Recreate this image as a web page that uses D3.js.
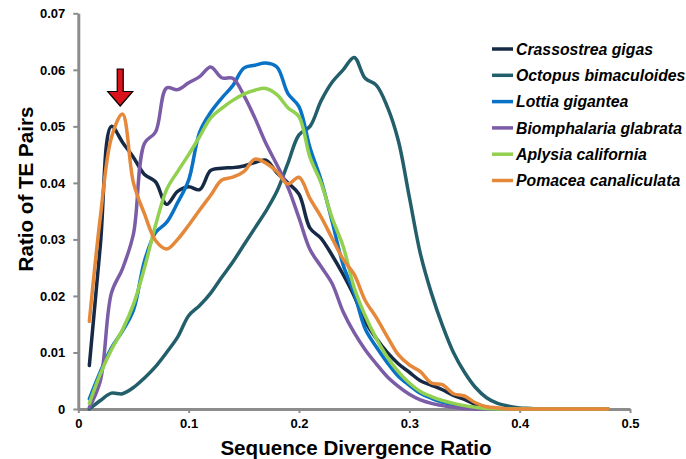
<!DOCTYPE html>
<meta charset="utf-8">
<script src="https://d3js.org/d3.v7.min.js"></script>
<style type="text/css">
body { margin: 0; background: #fff; }
svg { font-family: Arial, "Liberation Sans", sans-serif; }
.axis path, .axis line { stroke: #8c8c8c; }
.axis path { stroke-width: 3; }
.axis line { stroke-width: 2; }
.axis text { font-size: 13px; font-weight: bold; fill: #000; }
.title { font-size: 20.6px; font-weight: bold; fill: #000; }
.legend text { font-size: 15.8px; font-weight: bold; font-style: italic; fill: #000; }
</style>
<body>
</body>
<script>

// sequence divergence ratio (x)
var divergence = [0.01, 0.02, 0.03, 0.04, 0.05, 0.06, 0.07, 0.08, 0.09, 0.10,
  0.11, 0.12, 0.13, 0.14, 0.15, 0.16, 0.17, 0.18, 0.19, 0.20,
  0.21, 0.22, 0.23, 0.24, 0.25, 0.26, 0.27, 0.28, 0.29, 0.30,
  0.31, 0.32, 0.33, 0.34, 0.35, 0.36, 0.37, 0.38, 0.39, 0.40,
  0.41, 0.42, 0.43, 0.44, 0.45, 0.46, 0.47, 0.48];

var crassostrea = [0.0077, 0.0290, 0.0500, 0.0472, 0.0445, 0.0415, 0.0402, 0.0362, 0.0385, 0.0393,
  0.0388, 0.0422, 0.0426, 0.0427, 0.0430, 0.0436, 0.0440, 0.0418, 0.0400, 0.0380,
  0.0320, 0.0302, 0.0272, 0.0238, 0.0200, 0.0155, 0.0125, 0.0100, 0.0080, 0.0065,
  0.0050, 0.0042, 0.0034, 0.0024, 0.0017, 0.0008, 0.0003, 0.0001, 0, 0,
  0, 0, 0, 0, 0, 0, 0, 0];

var octopus = [0.0000, 0.0015, 0.0028, 0.0027, 0.0038, 0.0055, 0.0075, 0.0100, 0.0127, 0.0165,
  0.0183, 0.0205, 0.0233, 0.0260, 0.0290, 0.0320, 0.0350, 0.0385, 0.0435, 0.0485,
  0.0500, 0.0545, 0.0578, 0.0600, 0.0622, 0.0585, 0.0573, 0.0535, 0.0475, 0.0375,
  0.0275, 0.0205, 0.0148, 0.0100, 0.0065, 0.0038, 0.0020, 0.0010, 0.0005, 0.0002,
  0.0001, 0, 0, 0, 0, 0, 0, 0];

var lottia = [0.0018, 0.0066, 0.0108, 0.0138, 0.0175, 0.0262, 0.0312, 0.0330, 0.0365, 0.0405,
  0.0490, 0.0525, 0.0550, 0.0572, 0.0603, 0.0608, 0.0612, 0.0605, 0.0558, 0.0535,
  0.0462, 0.0405, 0.0332, 0.0255, 0.0205, 0.0142, 0.0110, 0.0082, 0.0058, 0.0042,
  0.0028, 0.0019, 0.0012, 0.0008, 0.0004, 0.0002, 0.0001, 0, 0, 0,
  0, 0, 0, 0, 0, 0, 0, 0];

var biomphalaria = [0.0003, 0.0050, 0.0205, 0.0248, 0.0310, 0.0470, 0.0490, 0.0568, 0.0565, 0.0577,
  0.0588, 0.0605, 0.0586, 0.0585, 0.0555, 0.0515, 0.0470, 0.0432, 0.0392, 0.0338,
  0.0282, 0.0252, 0.0222, 0.0172, 0.0135, 0.0105, 0.0080, 0.0057, 0.0040, 0.0026,
  0.0016, 0.0010, 0.0006, 0.0003, 0.0001, 0, 0, 0, 0, 0,
  0, 0, 0, 0, 0, 0, 0, 0];

var aplysia = [0.0010, 0.0062, 0.0105, 0.0140, 0.0185, 0.0250, 0.0325, 0.0388, 0.0420, 0.0450,
  0.0482, 0.0515, 0.0532, 0.0546, 0.0557, 0.0564, 0.0567, 0.0556, 0.0533, 0.0517,
  0.0445, 0.0400, 0.0338, 0.0288, 0.0215, 0.0165, 0.0125, 0.0092, 0.0066, 0.0046,
  0.0031, 0.0022, 0.0015, 0.0010, 0.0006, 0.0003, 0.0001, 0, 0, 0,
  0, 0, 0, 0, 0, 0, 0, 0];

var pomacea = [0.0155, 0.0340, 0.0480, 0.0522, 0.0400, 0.0345, 0.0298, 0.0283, 0.0300, 0.0325,
  0.0352, 0.0378, 0.0405, 0.0410, 0.0420, 0.0442, 0.0435, 0.0420, 0.0398, 0.0410,
  0.0372, 0.0340, 0.0302, 0.0265, 0.0238, 0.0192, 0.0162, 0.0128, 0.0096, 0.0078,
  0.0066, 0.0046, 0.0043, 0.0027, 0.0023, 0.0011, 0.0004, 0.0002, 0, 0,
  0, 0, 0, 0, 0, 0, 0, 0];

var speciesNames = ["Crassostrea gigas", "Octopus bimaculoides", "Lottia gigantea",
  "Biomphalaria glabrata", "Aplysia california", "Pomacea canaliculata"];
var speciesColors = ["#172a45", "#235f6b", "#0a72c6", "#7b5ca6", "#92d050", "#e5883a"];

var xTickValues = [0, 0.1, 0.2, 0.3, 0.4, 0.5];
var xTickLabels = ["0", "0.1", "0.2", "0.3", "0.4", "0.5"];
var yTickValues = [0, 0.01, 0.02, 0.03, 0.04, 0.05, 0.06, 0.07];
var yTickLabels = ["0", "0.01", "0.02", "0.03", "0.04", "0.05", "0.06", "0.07"];

// red arrow marking the Pomacea peak
var arrowPoint = [0.038, 0.0536];

var series = [crassostrea, octopus, lottia, biomphalaria, aplysia, pomacea];

var width = 686;
var height = 459;

var svg = d3.select("body").append("svg")
  .attr("width", width)
  .attr("height", height);

var xScale = d3.scaleLinear()
  .domain([0, 0.5])
  .range([78.3, 630]);

var yScale = d3.scaleLinear()
  .domain([0, 0.07])
  .range([409, 13.3]);

var xAxis = d3.axisBottom(xScale)
  .tickValues(xTickValues)
  .tickFormat(function(d, i) { return xTickLabels[i]; })
  .tickSizeInner(4)
  .tickSizeOuter(0)
  .tickPadding(6);

var yAxis = d3.axisLeft(yScale)
  .tickValues(yTickValues)
  .tickFormat(function(d, i) { return yTickLabels[i]; })
  .tickSizeInner(5)
  .tickSizeOuter(0)
  .tickPadding(8);

svg.append("g")
  .attr("class", "x axis")
  .attr("transform", "translate(0," + yScale(0) + ")")
  .call(xAxis);

svg.append("g")
  .attr("class", "y axis")
  .attr("transform", "translate(" + xScale(0) + ",0)")
  .call(yAxis);

svg.selectAll(".axis .domain").attr("fill", "none");

var line = d3.line()
  .x(function(d) { return xScale(d[0]); })
  .y(function(d) { return yScale(d[1]); })
  .curve(d3.curveCatmullRom.alpha(0.5));

svg.selectAll(".species")
  .data(series).enter().append("path")
  .attr("class", "species")
  .attr("fill", "none")
  .attr("stroke", function(d, i) { return speciesColors[i]; })
  .attr("stroke-width", 3.5)
  .attr("stroke-linejoin", "round")
  .attr("stroke-linecap", "round")
  .attr("d", function(d) { return line(divergence.map(function(x, j) { return [x, d[j]]; })); });

// arrow
var ax = xScale(arrowPoint[0]);
var ay = yScale(arrowPoint[1]);
svg.append("path")
  .attr("d", "M" + ax + "," + ay +
    " l-12.5,-14.5 l9.5,0 l0,-22.5 l6,0 l0,22.5 l9.5,0 Z")
  .attr("fill", "#d9121c")
  .attr("stroke", "#000")
  .attr("stroke-width", 1.2)
  .attr("stroke-linejoin", "miter");

// axis titles
svg.append("text")
  .attr("class", "title")
  .attr("transform", "translate(33,189) rotate(-90)")
  .attr("text-anchor", "middle")
  .text("Ratio of TE Pairs");

svg.append("text")
  .attr("class", "title")
  .attr("x", 356)
  .attr("y", 455)
  .attr("text-anchor", "middle")
  .text("Sequence Divergence Ratio");

// legend
var legend = svg.selectAll(".legend")
  .data(speciesNames).enter().append("g")
  .attr("class", "legend")
  .attr("transform", function(d, i) { return "translate(492," + (49 + i * 26.3) + ")"; });

legend.append("line")
  .attr("x1", 0).attr("x2", 21)
  .attr("stroke", function(d, i) { return speciesColors[i]; })
  .attr("stroke-width", 3.5);

legend.append("text")
  .attr("x", 24)
  .attr("dy", "0.36em")
  .text(function(d) { return d; });

</script>
